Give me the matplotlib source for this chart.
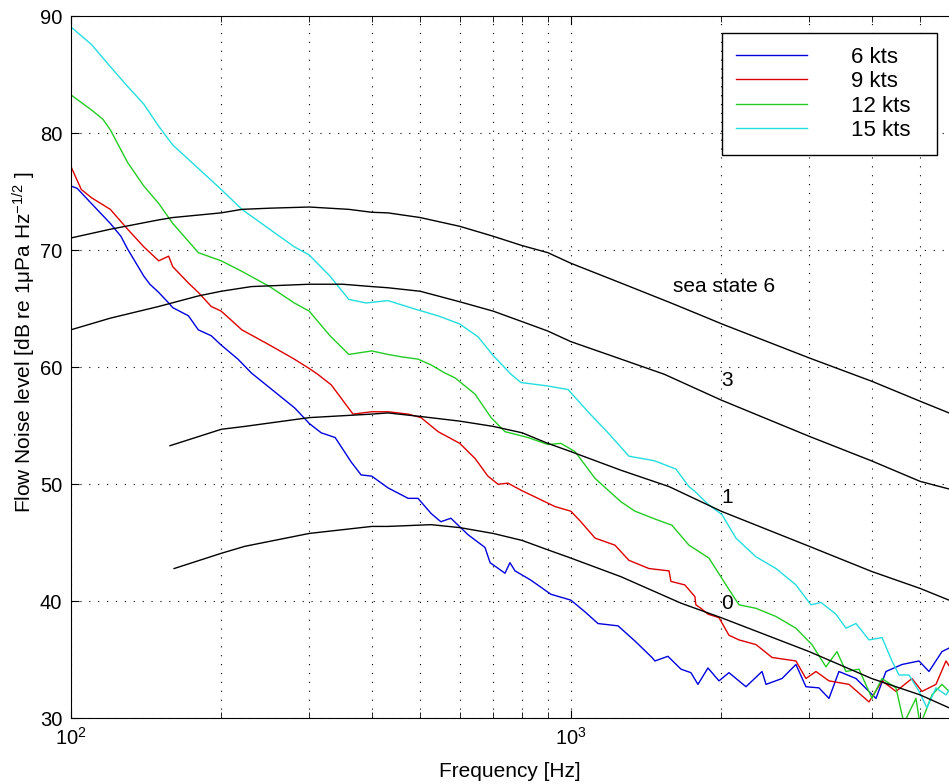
import matplotlib
matplotlib.use('Agg')
import matplotlib.pyplot as plt

plt.rcParams['font.family'] = ['Liberation Sans', 'DejaVu Sans']
plt.rcParams['mathtext.fontset'] = 'custom'
plt.rcParams['mathtext.rm'] = 'Liberation Sans'
plt.rcParams['mathtext.it'] = 'Liberation Sans:italic'

# flow noise, 6 kts
f6 = [100, 103, 110, 120, 126, 130, 140, 144, 150, 157, 160, 172, 180, 191, 200, 216, 230, 256, 281, 300,
      317, 338, 364, 381, 400, 431, 473, 495, 526, 550, 576, 623, 674, 690, 739, 756, 774, 833, 913, 1001,
      1068, 1134, 1244, 1345, 1454, 1474, 1565, 1662, 1740, 1797, 1882, 1980, 2073, 2242, 2414, 2459, 2647, 2822, 2955, 3138,
      3286, 3440, 3721, 4080, 4272, 4599, 4974, 5208, 5529, 5711]
L6 = [75.5, 75.3, 74.0, 72.3, 71.2, 70.1, 67.8, 67.1, 66.4, 65.5, 65.1, 64.4, 63.2, 62.7, 61.9, 60.7, 59.5, 57.9, 56.5, 55.2,
      54.4, 54.0, 51.9, 50.8, 50.7, 49.7, 48.8, 48.8, 47.5, 46.8, 47.1, 45.7, 44.6, 43.3, 42.4, 43.3, 42.6, 41.8, 40.6, 40.1,
      39.1, 38.1, 37.9, 36.6, 35.2, 34.9, 35.3, 34.2, 33.9, 32.9, 34.3, 33.2, 33.9, 32.7, 34.0, 32.9, 33.4, 34.6, 32.7, 32.6,
      31.7, 34.0, 33.4, 31.7, 34.0, 34.6, 34.9, 34.0, 35.7, 36.0]

# 9 kts
f9 = [100, 105, 110, 120, 130, 140, 150, 157, 160, 172, 180, 191, 200, 220, 250, 280, 300, 312, 332, 367,
      400, 431, 473, 502, 543, 600, 644, 683, 716, 749, 795, 860, 930, 1001, 1048, 1119, 1226, 1308, 1434, 1573,
      1587, 1692, 1772, 1780, 1822, 1882, 1980, 2073, 2171, 2348, 2528, 2822, 2955, 3095, 3286, 3603, 3951, 4195, 4473, 4816,
      5043, 5378, 5632, 5711]
L9 = [77.2, 75.2, 74.5, 73.5, 71.8, 70.3, 69.1, 69.5, 68.6, 67.2, 66.4, 65.2, 64.8, 63.2, 61.9, 60.7, 59.9, 59.4, 58.5, 56.0,
      56.2, 56.2, 56.0, 55.7, 54.5, 53.5, 52.2, 50.7, 50.0, 50.1, 49.5, 48.8, 48.1, 47.7, 46.8, 45.4, 44.8, 43.5, 42.8, 42.6,
      41.7, 41.4, 40.4, 39.7, 39.4, 38.9, 38.6, 37.1, 36.7, 36.3, 35.2, 34.9, 33.4, 34.0, 33.2, 32.9, 31.4, 33.2, 32.3, 33.4,
      32.3, 32.9, 34.9, 34.5]

# 12 kts
f12 = [100, 110, 116, 120, 130, 140, 150, 160, 180, 200, 220, 250, 280, 300, 330, 360, 400, 431, 458, 495,
       526, 561, 587, 644, 693, 739, 821, 901, 956, 1020, 1119, 1261, 1345, 1481, 1594, 1724, 1890, 2045, 2171, 2348,
       2575, 2822, 3038, 3240, 3409, 3553, 3773, 4006, 4195, 4473, 4640, 4905, 5000, 5281, 5529, 5711]
L12 = [83.3, 82.0, 81.2, 80.3, 77.5, 75.5, 74.0, 72.3, 69.8, 69.1, 68.2, 66.9, 65.5, 64.8, 62.7, 61.1, 61.4, 61.1, 60.9, 60.7,
       60.2, 59.5, 59.1, 57.7, 55.7, 54.5, 54.0, 53.4, 53.5, 52.8, 50.5, 48.5, 47.7, 47.0, 46.5, 44.8, 43.7, 41.4, 39.7, 39.4,
       38.7, 37.7, 36.3, 34.4, 35.7, 34.0, 34.2, 31.7, 33.4, 32.6, 29.6, 31.7, 29.4, 32.0, 32.9, 32.3]

# 15 kts
f15 = [100, 110, 120, 130, 140, 150, 160, 180, 200, 220, 250, 280, 300, 330, 360, 390, 431, 495, 543, 600,
       653, 700, 760, 795, 901, 988, 1083, 1188, 1308, 1434, 1474, 1624, 1724, 1772, 1882, 2008, 2141, 2348, 2575, 2822,
       3024, 3167, 3393, 3553, 3721, 3951, 4195, 4392, 4536, 4750, 4974, 5160, 5378, 5632, 5711]
L15 = [89.1, 87.6, 85.7, 84.0, 82.5, 80.6, 79.0, 77.0, 75.2, 73.5, 71.8, 70.3, 69.6, 67.8, 65.8, 65.5, 65.7, 64.9, 64.4, 63.7,
       62.6, 61.0, 59.4, 58.7, 58.4, 58.1, 56.2, 54.4, 52.4, 52.1, 52.0, 51.3, 49.8, 49.4, 48.3, 47.4, 45.4, 43.8, 42.8, 41.4,
       39.7, 39.9, 38.9, 37.7, 38.1, 36.7, 36.9, 34.9, 33.7, 33.7, 32.3, 30.9, 32.6, 32.0, 32.4]

# sea state ambient noise curves
ss6_f = [100, 120, 150, 160, 200, 220, 250, 300, 360, 400, 431, 500, 600, 700, 800, 900, 1000, 1261, 1587, 1882,
         2008, 3000, 4006, 5000, 5711]
ss6_L = [71.05, 71.8, 72.6, 72.8, 73.2, 73.5, 73.6, 73.7, 73.5, 73.25, 73.2, 72.8, 72.05, 71.2, 70.4, 69.8, 68.9, 67.2, 65.5, 64.2,
         63.7, 60.8, 58.8, 57.1, 56.1]
ss3_f = [100, 120, 150, 180, 200, 230, 300, 350, 400, 431, 500, 600, 700, 800, 900, 1000, 1261, 1540, 2000, 3000,
         4000, 5000, 5711]
ss3_L = [63.2, 64.2, 65.2, 66.1, 66.5, 66.9, 67.1, 67.1, 66.9, 66.8, 66.5, 65.6, 64.8, 63.9, 63.1, 62.2, 60.7, 59.4, 57.2, 54.1,
         52.0, 50.25, 49.6]
ss1_f = [158, 200, 223, 300, 400, 431, 500, 600, 700, 800, 900, 1000, 1261, 1574, 2000, 3000, 4000, 5000, 5711]
ss1_L = [53.3, 54.7, 54.95, 55.7, 56.0, 56.1, 55.8, 55.4, 54.95, 54.4, 53.5, 52.8, 51.2, 49.8, 47.7, 44.7, 42.55, 41.1, 40.1]
ss0_f = [161, 200, 223, 300, 400, 431, 526, 600, 700, 800, 900, 1000, 1261, 1660, 2000, 3000, 4000, 5000, 5711]
ss0_L = [42.8, 44.1, 44.7, 45.8, 46.4, 46.4, 46.55, 46.3, 45.8, 45.2, 44.4, 43.7, 42.1, 39.85, 38.6, 35.7, 33.4, 32.0, 30.9]

speed_labels = ['6 kts  ', '9 kts  ', '12 kts  ', '15 kts  ']
speed_colors = ['#0000dd', '#dd0000', '#22cc22', '#22dddd']

fig = plt.figure(figsize=(9.49, 7.84), dpi=100)
ax = fig.add_axes([0.0745, 0.0838, 0.9255, 0.8954])

for f, L, lab, c in zip([f6, f9, f12, f15], [L6, L9, L12, L15], speed_labels, speed_colors):
    ax.plot(f, L, color=c, lw=1.0, label=lab)

for f, L in [(ss6_f, ss6_L), (ss3_f, ss3_L), (ss1_f, ss1_L), (ss0_f, ss0_L)]:
    ax.plot(f, L, color='black', lw=1.0)

ax.text(1600, 66.9, 'sea state 6', fontsize=15, va='center', ha='left')
ax.text(2000, 58.9, '3', fontsize=15, va='center', ha='left')
ax.text(2000, 48.9, '1', fontsize=15, va='center', ha='left')
ax.text(2000, 39.85, '0', fontsize=15, va='center', ha='left')

ax.set_xscale('log')
ax.set_xlim(100, 5711)
ax.set_ylim(30, 90)
ax.set_yticks([30, 40, 50, 60, 70, 80, 90])

ax.grid(True, which='both', axis='x', color='black', linestyle=(0, (1, 7)), lw=0.8)
ax.grid(True, which='major', axis='y', color='black', linestyle=(0, (1, 7)), lw=0.8)

ax.tick_params(which='both', direction='in', top=True, right=False, labelsize=14.5, pad=6)
ax.tick_params(which='major', length=6)
ax.tick_params(which='minor', length=4)
ax.spines['right'].set_visible(False)

ax.set_xlabel('Frequency [Hz]', fontsize=15, labelpad=10)
ax.set_ylabel('Flow Noise level [dB re 1μPa Hz$^{-1/2}$ ]', fontsize=15)
ax.yaxis.set_label_coords(-0.037, 0.535)

leg = ax.legend(loc='upper right', bbox_to_anchor=(0.986, 0.976), borderaxespad=0,
                fontsize=16, fancybox=False, framealpha=1, edgecolor='black',
                handlelength=3.2, handletextpad=2.0, labelspacing=0.15, borderpad=0.62)
leg.get_frame().set_linewidth(1.0)

plt.savefig('out.png', dpi=100)
